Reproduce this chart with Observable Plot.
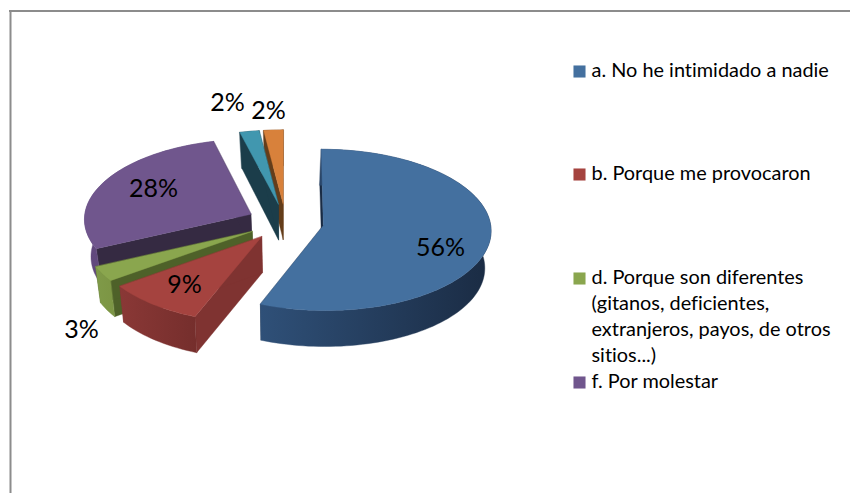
<!DOCTYPE html>
<html>
<head>
<meta charset="utf-8">
<script src="https://cdn.jsdelivr.net/npm/d3@7"></script>
<script src="https://cdn.jsdelivr.net/npm/@observablehq/plot@0.6"></script>
<style>html,body{margin:0;padding:0;background:#fff}svg{display:block}svg text{font-variant-ligatures:none}</style>
</head>
<body>
<div id="chart"></div>
<script>
// Data
const categories = ["a. No he intimidado a nadie", "b. Porque me provocaron",
  "d. Porque son diferentes\n(gitanos, deficientes,\nextranjeros, payos, de otros\nsitios...)",
  "f. Por molestar", "g", "h"];
const values = [56, 9, 3, 28, 2, 2];
const valueLabels = ["56%", "9%", "3%", "28%", "2%", "2%"];

// Styles
const topColors = ["#44709f", "#a5433f", "#8aa64e", "#70568d", "#4197af", "#d8813b"];
const cutColors = ["#1a2c44", "#7f3331", "#4e6129", "#352a42", "#1b3d4a", "#643d1a"];
const wallLeft  = ["#2f5078", "#8a3836", "#7f9a48", "#62497e", "#1b3d4a", "#643d1a"];
const wallRight = ["#1a2b43", "#752e2c", "#7c9544", "#5c4676", "#1b3d4a", "#643d1a"];

// Layout
const W = 850, H = 493;
const cx = 285, cy = 221.5, rx = 167, ry = 80, k = 0.055, explode = 0.23, depth = 36;
const paintOrder = [5, 4, 3, 0, 2, 1];
const labelX = [440, 184, 81, 153, 227, 268];
const labelY = [247, 284, 329, 188, 102, 110];
const legendY = [71, 174, 278, 382];
const legendTextY = [71, 174, 278, 382];

const total = d3.sum(values);
const cum = d3.cumsum(values);
const TAU = Math.PI * 2;

function project(theta, r, phi, drop = 0) {
  const u = r * Math.sin(theta) + explode * Math.sin(phi);
  const v = -r * Math.cos(theta) - explode * Math.cos(phi);
  const s = 1 / (1 - k * v);
  const b = drop ? 0.968 + 0.012 * v : 1;
  return {x: cx + rx * u * s * b, y: cy + ry * v * s + drop};
}

const marks = [];
const face = (pts, fill) => marks.push(Plot.line(pts, {x: "x", y: "y", fill, stroke: fill, strokeWidth: 0.4, curve: "linear-closed"}));

marks.push(Plot.ruleY([10.5], {x1: 9, x2: W, stroke: "#8c8c8c", strokeWidth: 2}));
marks.push(Plot.ruleX([10], {y1: 10, y2: H, stroke: "#8c8c8c", strokeWidth: 2}));

marks.push(() => {
  const ns = "http://www.w3.org/2000/svg";
  const g = document.createElementNS(ns, "defs");
  values.forEach((_, i) => {
    const lg = document.createElementNS(ns, "linearGradient");
    lg.setAttribute("id", "wall" + i);
    [[0, wallLeft[i]], [1, wallRight[i]]].forEach(([o, c]) => {
      const st = document.createElementNS(ns, "stop");
      st.setAttribute("offset", o);
      st.setAttribute("stop-color", c);
      lg.appendChild(st);
    });
    g.appendChild(lg);
  });
  return g;
});

for (const i of paintOrder) {
  const a0 = (cum[i] - values[i]) / total * TAU;
  const a1 = cum[i] / total * TAU;
  const phi = (a0 + a1) / 2;
  const n = Math.max(6, Math.round(values[i] * 2));
  const arc = d3.range(n + 1).map(j => a0 + (a1 - a0) * j / n);
  const apex = project(0, 0, phi), apexD = project(0, 0, phi, depth);
  const topArc = arc.map(t => project(t, 1, phi));
  const botArc = arc.map(t => project(t, 1, phi, depth));
  face([apex, apexD, botArc[0], topArc[0]], cutColors[i]);
  face([apex, apexD, botArc[n], topArc[n]], cutColors[i]);
  face([...topArc, ...[...botArc].reverse()], `url(#wall${i})`);
  face([apex, ...topArc], topColors[i]);
}

marks.push(Plot.text(valueLabels, {
  x: (d, i) => labelX[i], y: (d, i) => labelY[i], text: d => d,
  fontFamily: "Lato, 'Open Sans', sans-serif", fontSize: 25, fill: "#000", textAnchor: "middle", lineAnchor: "middle"
}));

const legendItems = categories.slice(0, 4);
marks.push(Plot.dot(legendItems, {
  x: () => 579, y: (d, i) => legendY[i], symbol: "square", r: 6.8, fill: (d, i) => topColors[i], stroke: "none"
}));
marks.push(Plot.text(legendItems, {
  x: () => 591, y: (d, i) => legendTextY[i], text: d => d,
  fontFamily: "Lato, 'Open Sans', sans-serif", fontSize: 19.9, fill: "#000",
  textAnchor: "start", lineAnchor: "top", dy: -13, lineHeight: 1.307
}));

const chart = Plot.plot({
  width: W, height: H, margin: 0,
  x: {domain: [0, W], range: [0, W], axis: null},
  y: {domain: [0, H], range: [0, H], axis: null},
  color: {type: "identity"},
  style: {background: "#fff"},
  marks
});
document.getElementById("chart").appendChild(chart);
</script>
</body>
</html>
